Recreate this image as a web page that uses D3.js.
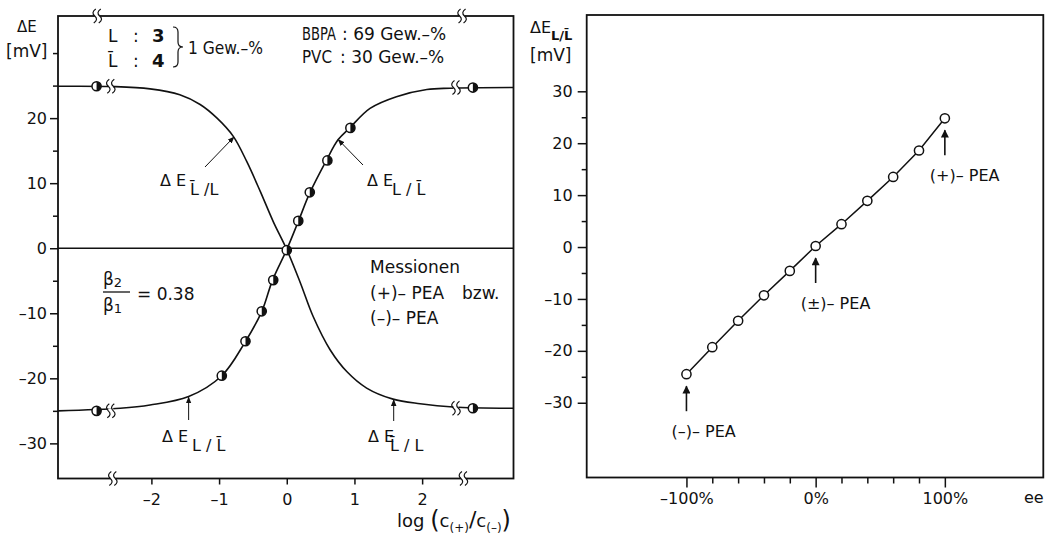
<!DOCTYPE html>
<html><head><meta charset="utf-8">
<script src="https://cdn.jsdelivr.net/npm/d3@7"></script>
<style>
body{margin:0;background:#fff}
svg{display:block}
text{font-family:"DejaVu Sans",sans-serif;fill:#111}
</style>
</head><body>
<svg id="c" width="1046" height="538"></svg>
<script>
// ---------- data ----------
// left panel: measured points on the sigmoid (log(c+/c-) , ΔE mV)
const logRatio   = [-0.96, -0.61, -0.37, -0.20, 0.00, 0.17, 0.34, 0.60, 0.94];
const deltaELog  = [-19.6, -14.3, -9.7, -4.9, -0.3, 4.2, 8.6, 13.5, 18.5];
// pure enantiomer points (beyond the axis breaks)
const pureX      = [-2.81, 2.75];
const pureUpper  = [24.9, 24.7];
const pureLower  = [-25.0, -24.6];
// curve ΔE L/L̄ (rising)
const riseX = [-3.38, -2.46, -2.02, -1.45, -0.96, -0.62, -0.37, -0.21, 0.00, 0.17, 0.34, 0.59, 0.76, 0.93, 1.23, 1.62, 2.07, 2.41, 3.35];
const riseY = [-25.0, -24.6, -24.1, -22.8, -19.6, -14.5, -9.75, -4.9, -0.2, 4.1, 8.5, 13.6, 16.7, 18.5, 21.5, 23.3, 24.4, 24.6, 24.7];
// curve ΔE L̄/L (falling)
const fallX = [-3.38, -2.56, -2.02, -1.58, -1.28, -1.03, -0.79, -0.59, -0.39, -0.20, 0.00, 0.20, 0.39, 0.64, 0.89, 1.18, 1.57, 1.97, 2.46, 3.35];
const fallY = [24.9, 24.85, 24.5, 23.6, 22.1, 20.0, 17.2, 13.3, 8.7, 4.1, -0.2, -5.3, -10.5, -15.6, -19.0, -21.5, -23.2, -23.9, -24.4, -24.6];
// axis breaks (data x)
const breakTopAxis = [-2.80, 2.59];
const breakBottomAxis = [-2.57, 2.61];
const breakPlateau = [-2.60, 2.50];
const leftYTicks = [-30, -20, -10, 0, 10, 20];
const leftYMinor = [-25, -15, -5, 5, 15, 25, 30];
const leftXTicks = [-2, -1, 0, 1, 2];

// right panel: ΔE vs ee
const eeValues  = [-100, -80, -60, -40, -20, 0, 20, 40, 60, 80, 100];
const deltaEee  = [-24.5, -19.3, -14.2, -9.3, -4.6, 0.2, 4.4, 8.9, 13.5, 18.6, 24.8];
const rightYTicks = [-30, -20, -10, 0, 10, 20, 30];
const rightYMinor = [-25, -15, -5, 5, 15, 25];
const rightXTicks = [-100, 0, 100];
const rightXLabels = ["–100%", "0%", "100%"];
const rightXMinor = [-80, -60, -40, -20, 20, 40, 60, 80];
const peaLabels = ["(–)– PEA", "(±)– PEA", "(+)– PEA"];
const peaEe = [-100, 0, 100];

// ---------- drawing ----------
const svg = d3.select("#c");
const defs = svg.append("defs");
defs.append("marker").attr("id","arrS").attr("markerUnits","userSpaceOnUse")
  .attr("viewBox","0 0 10 10").attr("refX",9).attr("refY",5)
  .attr("markerWidth",7).attr("markerHeight",7).attr("orient","auto")
  .append("path").attr("d","M0,1 L10,5 L0,9 Z").attr("fill","#111");
defs.append("marker").attr("id","arrB").attr("markerUnits","userSpaceOnUse")
  .attr("viewBox","0 0 10 10").attr("refX",9).attr("refY",5)
  .attr("markerWidth",9).attr("markerHeight",8).attr("orient","auto")
  .append("path").attr("d","M0,0 L10,5 L0,10 Z").attr("fill","#111");

const fmt = d => d < 0 ? "–" + Math.abs(d) : String(d);

// ===== LEFT PANEL =====
const xL = d3.scaleLinear().domain([-3.38, 3.35]).range([58, 513.5]);
const yL = d3.scaleLinear().domain([-35.4, 35.7]).range([478.5, 16]);
const gL = svg.append("g");

gL.append("g").attr("transform",`translate(${xL.range()[0]},0)`)
  .call(d3.axisLeft(yL).tickValues(leftYMinor).tickSize(5).tickFormat(""))
  .call(g=>g.select(".domain").remove());
gL.append("g").attr("transform",`translate(${xL.range()[0]},0)`)
  .call(d3.axisLeft(yL).tickValues(leftYTicks).tickSize(8).tickPadding(3).tickFormat(fmt))
  .call(g=>g.select(".domain").remove());
gL.append("g").attr("transform",`translate(0,${yL.range()[0]})`)
  .call(d3.axisBottom(xL).tickValues(leftXTicks).tickSize(6).tickPadding(9).tickFormat(fmt))
  .call(g=>g.select(".domain").remove());
gL.selectAll(".tick line").attr("stroke","#111").attr("stroke-width",1.5);
gL.selectAll(".tick text").attr("font-family","DejaVu Sans").attr("font-size",16).attr("fill","#111");

gL.append("rect").attr("x",xL.range()[0]).attr("y",yL.range()[1])
  .attr("width",xL.range()[1]-xL.range()[0]).attr("height",yL.range()[0]-yL.range()[1])
  .attr("fill","none").attr("stroke","#111").attr("stroke-width",1.8);
gL.append("line").attr("x1",xL.range()[0]).attr("x2",xL.range()[1])
  .attr("y1",yL(0)).attr("y2",yL(0)).attr("stroke","#111").attr("stroke-width",1.5);

const lineL = d3.line().x(d=>xL(d[0])).y(d=>yL(d[1])).curve(d3.curveCatmullRom.alpha(0.5));
gL.append("path").datum(d3.zip(riseX, riseY)).attr("d",lineL)
  .attr("fill","none").attr("stroke","#111").attr("stroke-width",1.6);
gL.append("path").datum(d3.zip(fallX, fallY)).attr("d",lineL)
  .attr("fill","none").attr("stroke","#111").attr("stroke-width",1.6);

function brk(px, py){
  const g = gL.append("g");
  g.append("rect").attr("x",px-2.5).attr("y",py-2.5).attr("width",5).attr("height",5).attr("fill","#fff");
  [-2.5, 2.5].forEach(o=>{
    const cx = px+o;
    g.append("path").attr("d",`M${cx+1},${py-7} Q${cx-4},${py-3.5} ${cx},${py} Q${cx+4},${py+3.5} ${cx-1},${py+7}`)
      .attr("fill","none").attr("stroke","#111").attr("stroke-width",1.2);
  });
}
breakTopAxis.forEach(x=>brk(xL(x), yL.range()[1]));
breakBottomAxis.forEach(x=>brk(xL(x), yL.range()[0]));
breakPlateau.forEach((x,i)=>{ brk(xL(x), yL(pureUpper[i])); brk(xL(x), yL(pureLower[i])); });

function half(px, py){
  const r = 4.6;
  gL.append("circle").attr("cx",px).attr("cy",py).attr("r",r).attr("fill","#fff").attr("stroke","#111").attr("stroke-width",1.5);
  gL.append("path").attr("d",`M${px},${py-r} A${r},${r} 0 0 1 ${px},${py+r} Z`).attr("fill","#111");
}
logRatio.forEach((x,i)=>half(xL(x), yL(deltaELog[i])));
pureX.forEach((x,i)=>{ half(xL(x), yL(pureUpper[i])); half(xL(x), yL(pureLower[i])); });

gL.append("text").attr("x",17).attr("y",32).attr("font-size",15).text("ΔE");
gL.append("text").attr("x",6).attr("y",57).attr("font-size",17).text("[mV]");

const lg = gL.append("g").attr("font-size",17);
lg.append("text").attr("x",108).attr("y",42).text("L");
lg.append("text").attr("x",133).attr("y",42).text(":");
lg.append("text").attr("x",152).attr("y",42).attr("font-weight","bold").attr("font-size",18).text("3");
lg.append("text").attr("x",108).attr("y",67).text("L̄");
lg.append("text").attr("x",133).attr("y",67).text(":");
lg.append("text").attr("x",152).attr("y",67).attr("font-weight","bold").attr("font-size",18).text("4");
lg.append("path").attr("d","M173,27 Q178,27 178,32 L178,42 Q178,47 183,47 Q178,47 178,52 L178,62 Q178,67 173,67")
  .attr("fill","none").attr("stroke","#111").attr("stroke-width",1.2);
lg.append("text").attr("x",188).attr("y",54).attr("textLength",75).attr("lengthAdjust","spacingAndGlyphs").text("1 Gew.–%");
lg.append("text").attr("x",302).attr("y",40).attr("textLength",34).attr("lengthAdjust","spacingAndGlyphs").text("BBPA");
lg.append("text").attr("x",342).attr("y",40).text(": 69 Gew.–%");
lg.append("text").attr("x",302).attr("y",63).attr("textLength",30).attr("lengthAdjust","spacingAndGlyphs").text("PVC");
lg.append("text").attr("x",340).attr("y",63).text(": 30 Gew.–%");

lg.append("text").attr("x",370).attr("y",273).text("Messionen");
lg.append("text").attr("x",370).attr("y",299).text("(+)– PEA");
lg.append("text").attr("x",462).attr("y",299).text("bzw.");
lg.append("text").attr("x",370).attr("y",324).text("(–)– PEA");

lg.append("text").attr("x",103).attr("y",285).text("β").append("tspan").attr("font-size",13).attr("dy",2).text("2");
lg.append("line").attr("x1",103).attr("x2",130).attr("y1",292).attr("y2",292).attr("stroke","#111").attr("stroke-width",1.3);
lg.append("text").attr("x",103).attr("y",311).text("β").append("tspan").attr("font-size",13).attr("dy",2).text("1");
lg.append("text").attr("x",137).attr("y",300).text("= 0.38");

function dlabel(x, y, sub, sx){
  gL.append("text").attr("x",x).attr("y",y).attr("font-size",16).text("Δ E");
  gL.append("text").attr("x",sx).attr("y",y+9).attr("font-size",16).text(sub);
}
dlabel(160, 186, "L̄ /L", 190);
dlabel(367, 186, "L / L̄", 392);
dlabel(162, 442, "L / L̄", 192);
dlabel(368, 442, "L̄ / L", 390);
function ann(x1,y1,x2,y2){
  gL.append("line").attr("x1",x1).attr("y1",y1).attr("x2",x2).attr("y2",y2)
    .attr("stroke","#111").attr("stroke-width",1).attr("marker-end","url(#arrS)");
}
ann(205,167, xL(-0.78), yL(17.1));
ann(363,165, xL(0.76), yL(16.7));
ann(xL(-1.45),420, xL(-1.45), yL(-22.9));
ann(xL(1.58),421, xL(1.58), yL(-23.3));

const xt = gL.append("text").attr("x",397).attr("y",527).attr("font-size",18);
xt.append("tspan").text("log ");
xt.append("tspan").attr("font-size",24).attr("dy",1).text("(");
xt.append("tspan").attr("dy",-1).text("c");
xt.append("tspan").attr("font-size",12).attr("dy",5).text("(+)");
xt.append("tspan").attr("font-size",22).attr("dy",-5).text("/");
xt.append("tspan").text("c");
xt.append("tspan").attr("font-size",12).attr("dy",5).text("(–)");
xt.append("tspan").attr("font-size",24).attr("dy",-4).text(")");

// ===== RIGHT PANEL =====
const xR = d3.scaleLinear().domain([-177.2, 176.2]).range([586.7, 1043.3]);
const yR = d3.scaleLinear().domain([-44.4, 44.7]).range([477.5, 15]);
const gR = svg.append("g");

gR.append("g").attr("transform",`translate(${xR.range()[0]},0)`)
  .call(d3.axisLeft(yR).tickValues(rightYMinor).tickSize(5).tickFormat(""))
  .call(g=>g.select(".domain").remove());
gR.append("g").attr("transform",`translate(${xR.range()[0]},0)`)
  .call(d3.axisLeft(yR).tickValues(rightYTicks).tickSize(9).tickPadding(5).tickFormat(fmt))
  .call(g=>g.select(".domain").remove());
gR.append("g").attr("transform",`translate(0,${yR.range()[0]})`)
  .call(d3.axisBottom(xR).tickValues(rightXMinor).tickSize(6).tickFormat(""))
  .call(g=>g.select(".domain").remove());
gR.append("g").attr("transform",`translate(0,${yR.range()[0]})`)
  .call(d3.axisBottom(xR).tickValues(rightXTicks).tickSize(10).tickPadding(5).tickFormat((d,i)=>rightXLabels[i]))
  .call(g=>g.select(".domain").remove());
gR.selectAll(".tick line").attr("stroke","#111").attr("stroke-width",1.5);
gR.selectAll(".tick text").attr("font-family","DejaVu Sans").attr("font-size",16).attr("fill","#111");

gR.append("rect").attr("x",xR.range()[0]).attr("y",yR.range()[1])
  .attr("width",xR.range()[1]-xR.range()[0]).attr("height",yR.range()[0]-yR.range()[1])
  .attr("fill","none").attr("stroke","#111").attr("stroke-width",1.8);

gR.append("text").attr("x",1024).attr("y",503).attr("font-size",16).text("ee");
const yt = gR.append("text").attr("x",530).attr("y",33).attr("font-size",16);
yt.append("tspan").text("ΔE");
yt.append("tspan").attr("font-size",13).attr("font-weight","bold").attr("dy",7).text("L/L̄");
gR.append("text").attr("x",530).attr("y",61).attr("font-size",17).text("[mV]");

const lineR = d3.line().x(d=>xR(d[0])).y(d=>yR(d[1]));
gR.append("path").datum(d3.zip(eeValues, deltaEee)).attr("d",lineR)
  .attr("fill","none").attr("stroke","#111").attr("stroke-width",1.5);
gR.selectAll("circle.p").data(d3.zip(eeValues, deltaEee)).join("circle")
  .attr("cx",d=>xR(d[0])).attr("cy",d=>yR(d[1])).attr("r",4.6)
  .attr("fill","#fff").attr("stroke","#111").attr("stroke-width",1.5);

peaEe.forEach((e,i)=>{
  const k = eeValues.indexOf(e);
  const px = xR(e), py = yR(deltaEee[k]);
  gR.append("line").attr("x1",px).attr("x2",px).attr("y1",py+37).attr("y2",py+12)
    .attr("stroke","#111").attr("stroke-width",1.6).attr("marker-end","url(#arrB)");
  gR.append("text").attr("x",px-15).attr("y",py+63).attr("font-size",16).text(peaLabels[i]);
});
</script>
</body></html>
